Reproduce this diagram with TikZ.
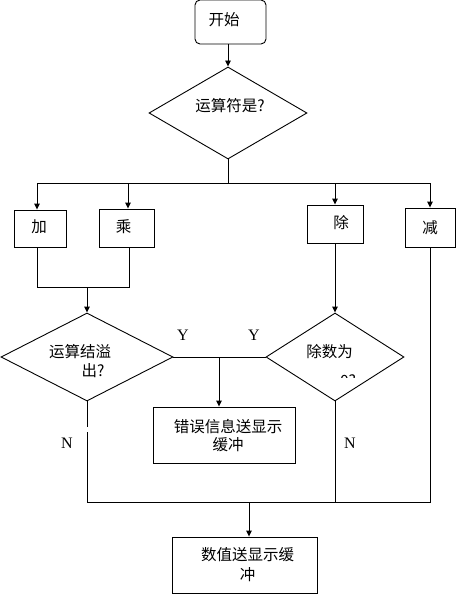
\documentclass[tikz,border=0pt]{standalone}
\usepackage{fontspec}
\setmainfont{Liberation Serif}
\newfontfamily\cjk{Noto Sans CJK SC}
\usetikzlibrary{shapes.geometric,arrows.meta}
\begin{document}
\begin{tikzpicture}[x=1pt,y=-1pt,line width=0.9pt,
  >={Triangle[width=5.5pt,length=6pt]},
  box/.style={draw,rectangle,inner sep=0pt},
  dia/.style={draw,diamond,inner sep=0pt},
  cjk/.style={inner sep=0pt,font=\cjk\fontsize{15.5}{18}\selectfont,align=center},
  lat/.style={inner sep=0pt,font=\fontsize{16}{18}\selectfont}]
\useasboundingbox (0,0) rectangle (456,594);

% nodes
\node[box,rounded corners=5pt,minimum width=71pt,minimum height=44pt] (start) at (230.5,22) {};
\node[cjk] (startT) at (224,20) {开始};
\node[dia,minimum width=158pt,minimum height=92pt] (op) at (228,113) {};
\node[cjk] (opT) at (230,106) {运算符是?};

\node[box,minimum width=52pt,minimum height=37pt] (add) at (40,228.5) {};
\node[cjk] (addT) at (39,227) {加};
\node[box,minimum width=55pt,minimum height=38pt] (mul) at (126.5,228) {};
\node[cjk] (mulT) at (123.5,227) {乘};
\node[box,minimum width=56pt,minimum height=38pt] (div) at (335,224) {};
\node[cjk] (divT) at (341,223) {除};
\node[box,minimum width=50pt,minimum height=39pt] (sub) at (430,227.5) {};
\node[cjk] (subT) at (430,228) {减};

\node[dia,minimum width=172pt,minimum height=88pt] (ovf) at (87,357) {};
\node[cjk] (ovfT1) at (80,352) {运算结溢};
\node[cjk] (ovfT2) at (93,371) {出?};
\node[dia,minimum width=138pt,minimum height=88pt] (dz) at (335,357) {};
\node[cjk] (dzT1) at (329.5,352) {除数为};
\begin{scope}
  \clip (320,370) rectangle (370,377.5);
  \node[cjk,anchor=base] (dzT2) at (348,386) {0?};
\end{scope}

\node[box,minimum width=142pt,minimum height=56pt] (err) at (224,435) {};
\node[cjk] (errT) at (228,436) {错误信息送显示\\缓冲};
\node[box,minimum width=145pt,minimum height=56pt] (fin) at (244.5,565) {};
\node[cjk,font=\cjk\fontsize{15.5}{20}\selectfont] (finT) at (247.5,565) {数值送显示缓\\冲};

\node[lat] (y1) at (183,335) {Y};
\node[lat] (y2) at (254,335) {Y};
\node[lat] (n1) at (67,443) {N};
\node[lat] (n2) at (350,443) {N};

% coordinates
\coordinate (split) at (228,183);
\coordinate (sL) at (37,183);
\coordinate (sM) at (128,183);
\coordinate (sD) at (335,183);
\coordinate (sR) at (430,183);
\coordinate (mL) at (37,287);
\coordinate (mM) at (87,287);
\coordinate (mR) at (129,287);
\coordinate (yj) at (219,357);
\coordinate (g1) at (87,427);
\coordinate (g2) at (87,432);
\coordinate (bL) at (87,502);
\coordinate (bR) at (431,502);
\coordinate (bM) at (249,502);

% connectors
\draw[->] (op.north |- start.south) -- (op.north);
\draw (op.south) -- (split);
\draw (sL) -- (sR);
\draw[->] (sL) -- (sL |- add.north);
\draw[->] (sM) -- (sM |- mul.north);
\draw[->] (sD) -- (div.north);
\draw[->] (sR) -- (sub.north);
\draw (sL |- add.south) -- (mL) -- (mR) -- (mR |- mul.south);
\draw[->] (mM) -- (ovf.north);
\draw[->] (div.south) -- (dz.north);
\draw (ovf.east) -- (dz.west);
\draw[->] (yj) -- (yj |- err.north);
\draw (ovf.south) -- (g1);
\draw (g2) -- (bL);
\draw (bL) -- (bR);
\draw (dz.south) -- (dz.south |- bL);
\draw (sub.south) -- (sub.south |- bR);
\draw[->] (bM) -- (bM |- fin.north);
\end{tikzpicture}
\end{document}
